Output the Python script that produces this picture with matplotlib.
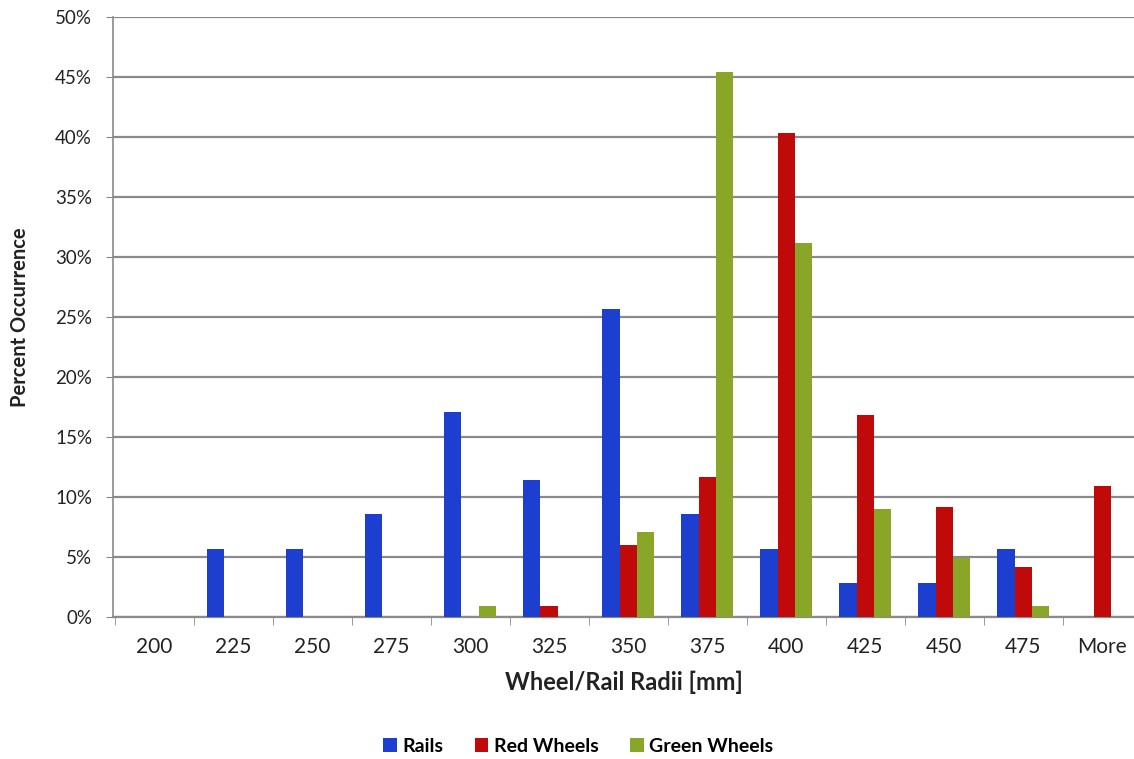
import numpy as np
import matplotlib
matplotlib.use("Agg")
import matplotlib.pyplot as plt

# Histogram bins (mm) and percent occurrence per series
categories = ["200", "225", "250", "275", "300", "325", "350",
              "375", "400", "425", "450", "475", "More"]
rails = [0, 5.7, 5.7, 8.6, 17.1, 11.4, 25.7, 8.6, 5.7, 2.8, 2.8, 5.7, 0]
red_wheels = [0, 0, 0, 0, 0, 0.9, 6.0, 11.7, 40.3, 16.8, 9.2, 4.2, 10.9]
green_wheels = [0, 0, 0, 0, 0.9, 0, 7.1, 45.4, 31.2, 9.0, 4.9, 0.9, 0]

series_names = ["Rails", "Red Wheels", "Green Wheels"]
colors = ["#1c3fd0", "#c00a0a", "#8aa628"]

plt.rcParams['font.family'] = ['Lato', 'DejaVu Sans']

fig = plt.figure(figsize=(11.34, 7.59), dpi=100)
ax = fig.add_axes([0.0996, 0.187, 0.9004, 0.7906])

x = np.arange(len(categories))
width = 0.22
for i, (vals, name, c) in enumerate(zip([rails, red_wheels, green_wheels], series_names, colors)):
    ax.bar(x + (i - 1) * width, vals, width, color=c, label=name, zorder=3)

ax.set_xlim(-0.52, 12.4)
ax.set_ylim(0, 50)

# gridlines and axes styling
ax.set_yticks(np.arange(0, 51, 5))
ax.set_yticklabels([f"{v}%" for v in range(0, 51, 5)], fontsize=13.5, color="#222222")
ax.yaxis.grid(True, color="#8a8a8a", linewidth=1.6, zorder=0)
ax.set_xticks(x)
ax.set_xticklabels(categories, fontsize=15, color="#222222")
ax.set_xticks(np.arange(-0.5, 12.5, 1), minor=True)
ax.tick_params(axis="x", which="major", length=0, pad=14)
ax.tick_params(axis="x", which="minor", length=6, color="#8a8a8a", direction="out")
ax.tick_params(axis="y", length=5, color="#8a8a8a", pad=10)

for s in ["top", "right"]:
    ax.spines[s].set_visible(False)
ax.spines["left"].set_color("#8a8a8a")
ax.spines["bottom"].set_color("#8a8a8a")
ax.spines["left"].set_linewidth(1.2)
ax.spines["bottom"].set_linewidth(1.6)

ax.set_xlabel("Wheel/Rail Radii [mm]", fontsize=17, fontweight="bold", color="#222222", labelpad=10)
ax.set_ylabel("Percent Occurrence", fontsize=14.5, fontweight="bold", color="#222222", labelpad=18)

handles, labels = ax.get_legend_handles_labels()
fig.legend(handles, labels, loc="center", bbox_to_anchor=(0.51, 0.017), ncol=3, frameon=False,
           prop={"size": 14, "weight": "bold"}, handlelength=0.7, handleheight=0.7,
           handletextpad=0.3, columnspacing=1.6)

fig.savefig("out.png", dpi=100)
